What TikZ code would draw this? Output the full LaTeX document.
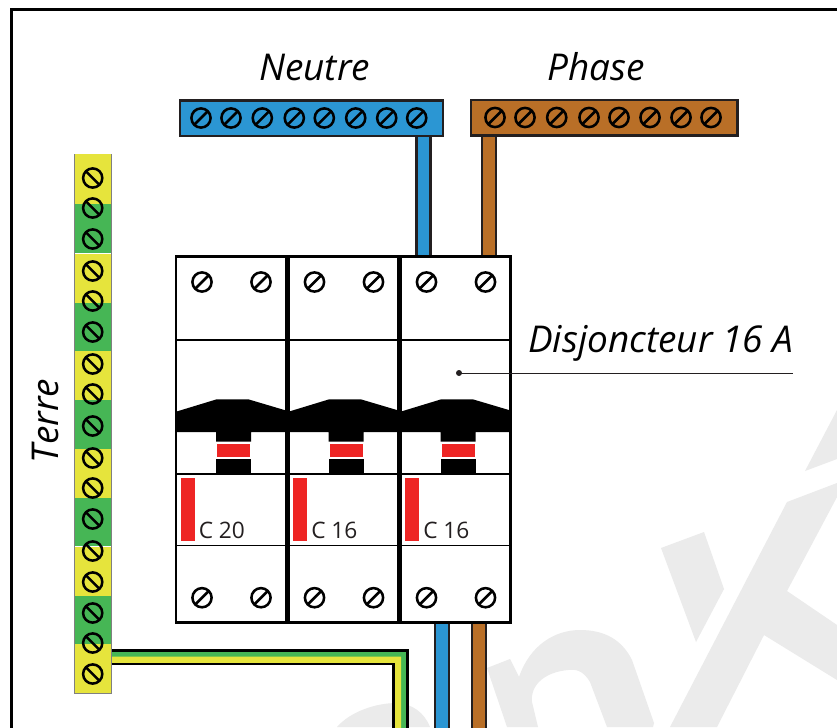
\documentclass[tikz,border=0pt]{standalone}
\usepackage{fontspec}
\setmainfont{Open Sans}
\definecolor{ink}{HTML}{231F20}
\definecolor{bleu}{HTML}{2B96D3}
\definecolor{brun}{HTML}{B96F27}
\definecolor{jaune}{HTML}{E6E43C}
\definecolor{vert}{HTML}{46B655}
\definecolor{rouge}{HTML}{EE2524}
\definecolor{filigrane}{HTML}{EBEBEB}
\tikzset{
  lbl/.style={inner sep=0pt,anchor=base west,text=black,font=\fontsize{27.7pt}{32pt}\selectfont\itshape},
  clbl/.style={inner sep=0pt,anchor=base west,text=ink,font=\fontsize{17pt}{20pt}\selectfont},
  bar/.style={draw=ink,line width=2.2pt},
  wire/.style={draw=ink,line width=2.2pt},
  case/.style={draw=black,line width=2.1pt,fill=white},
  sep/.style={draw=black,line width=0.9pt},
}
\usetikzlibrary{calc}
% screw: centre, slash angle
\newcommand{\vis}[3]{%
  \draw[black,line width=1.9pt] (#1,#2) circle[radius=9.6];
  \draw[black,line width=1.9pt] ($(#1,#2)+(#3:9.6)$) -- ($(#1,#2)+(#3+180:9.6)$);
}
\newcommand{\disj}[2]{% left x, label
  \pgfmathsetmacro{\xa}{#1}\pgfmathsetmacro{\xb}{#1+110}
  \draw[case] (\xa,256.5) rectangle (\xb,622.5);
  \draw[sep] (\xa,340) -- (\xb,340);
  \draw[sep] (\xa,474) -- (\xb,474);
  \draw[sep] (\xa,545.5) -- (\xb,545.5);
  \fill[black] (\xa,411.7) -- (\xa+40.7,399.3) -- (\xa+72.3,399.3) -- (\xb,410.5) -- (\xb,432) -- (\xa+75,432) -- (\xa+75,441.5) -- (\xa+40,441.5) -- (\xa+40,432) -- (\xa,432) -- cycle;
  \fill[black] (\xa+40,459.3) rectangle (\xa+75,474);
  \fill[rouge] (\xa+41.3,444.3) rectangle (\xa+74,456.7);
  \fill[rouge] (\xa+4.8,477.5) rectangle (\xa+18.5,541);
  \node[clbl] (lbl#1) at (\xa+22.5,538) {#2};
  \vis{\xa+26}{282}{135}\vis{\xa+85}{282}{135}
  \vis{\xa+26}{597.7}{135}\vis{\xa+85}{597.7}{135}
}
\begin{document}
\begin{tikzpicture}[x=0.75pt,y=-0.75pt]
\useasboundingbox (0,0) rectangle (837,727);
\clip (0,0) rectangle (837,727);
\fill[white] (0,0) rectangle (837,727);
% watermark
\fill[filigrane] (837,483) -- (787,502) -- (670,727) -- (717,727) -- (764,635) -- (837,680) -- (837,625) -- (787,591) -- (837,497) -- cycle;
\fill[filigrane] (837,410) -- (805,471) -- (837,459) -- cycle;
\fill[filigrane] (661,548) -- (704,532) -- (724,589) -- (696,642) -- cycle;
\fill[filigrane] (487,668) -- (510,659) -- (519,677) .. controls (530,645) and (555,630) .. (580,630) .. controls (605,630) and (622,640) .. (632,660) -- (654,723) -- (653,727) -- (607,727) -- (590,682) .. controls (583,670) and (575,669) .. (568,670) .. controls (545,672) and (530,685) .. (532,702) -- (538,727) -- (507,727) -- cycle;
\fill[filigrane] (337,727) .. controls (350,712) and (375,703) .. (397,703) .. controls (412,704) and (424,712) .. (430,727) -- cycle;
% frame
\draw[black,line width=2.2pt] (11.5,740) -- (11.5,9.5) -- (850,9.5);
% wires top
\draw[wire,fill=bleu] (416.5,130) rectangle (430.5,262);
\draw[wire,fill=brun] (482,130) rectangle (496,262);
% wires bottom
\draw[wire,fill=bleu] (435,618) rectangle (449,740);
\draw[wire,fill=brun] (472,618) rectangle (486,740);
% bus bars
\draw[bar,fill=bleu] (180,100.5) rectangle (443,136);
\draw[bar,fill=brun] (471,100) rectangle (737.5,135.5);
\foreach \x in {201,231,262.3,294.3,324.3,355.7,386.7,416.7} {\vis{\x}{118}{135}}
\foreach \x in {495,525,556.7,589,619,650,681,711} {\vis{\x}{117.5}{135}}
\node[lbl] (neutre) at (259,81) {Neutre};
\node[lbl] (phase) at (547,81) {Phase};
% breakers
\disj{176}{C 20}
\disj{288.5}{C 16}
\disj{400.5}{C 16}
% leader
\fill[ink] (459,373) circle[radius=3] coordinate (leadA);
\coordinate (leadB) at (793,373);
\draw[ink,line width=0.6pt] (leadA) -- (leadB);
\node[lbl] (disj) at (528,352) {Disjoncteur 16 A};
% earth wire
\fill[vert] (111,650.5) -- (407.5,650.5) -- (407.5,740) -- (393.5,740) -- (393.5,664) -- (111,664) -- cycle;
\fill[jaune] (111,656.7) -- (401,656.7) -- (401,740) -- (393.5,740) -- (393.5,664) -- (111,664) -- cycle;
\draw[black,line width=1.7pt] (111,650.5) -- (407.5,650.5) -- (407.5,740);
\draw[black,line width=1.7pt] (111,664) -- (393.5,664) -- (393.5,740);
% earth strip
\draw[gray,line width=0.8pt] (74.3,154.5) rectangle (111.5,693);
\foreach \a/\b/\c in {154.5/204/jaune,204/253.3/vert,253.8/302.7/jaune,302.7/351/vert,351/400/jaune,400/449/vert,449/497.5/jaune,497.5/546.3/vert,546.8/595.7/jaune,595.7/644/vert,644/693/jaune} {
  \fill[\c] (74.7,\a) rectangle (111.2,\b);
}
\foreach \y in {178,208,239,271,301,332,364,394,426,458,488,519,551,582,613,643,674} {\vis{92.7}{\y}{45}}
\node[lbl,rotate=90] (terre) at (58.5,463.5) {Terre};
\end{tikzpicture}
\end{document}
